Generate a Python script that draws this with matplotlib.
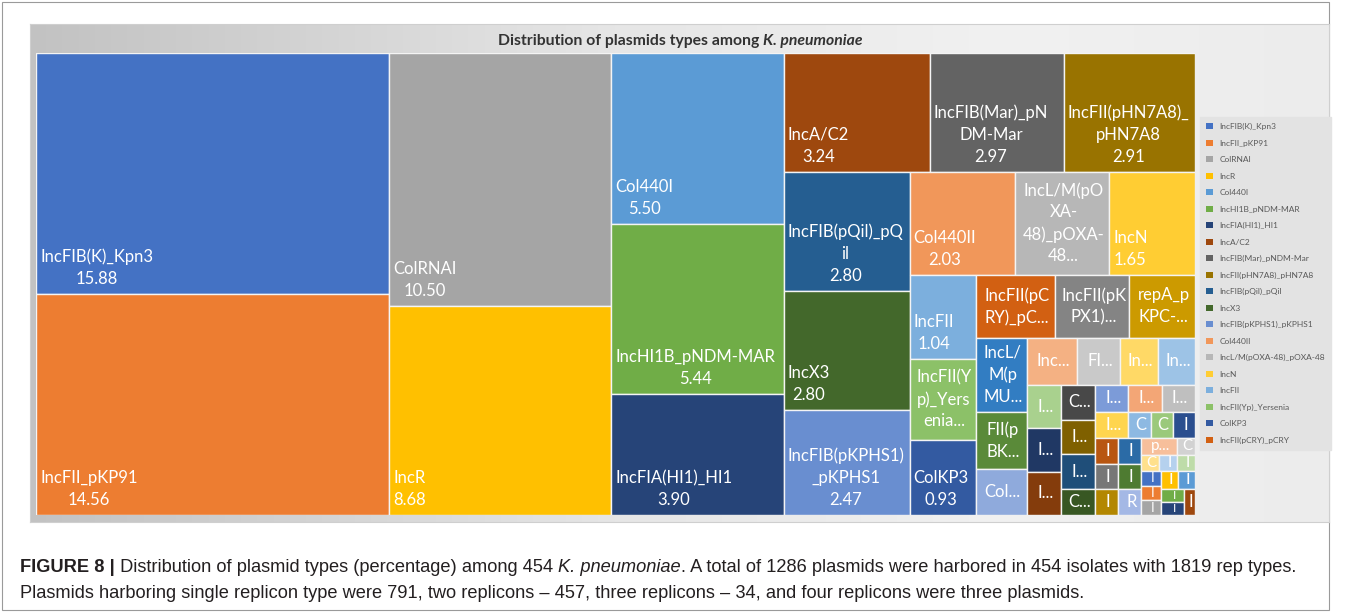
import numpy as np
import matplotlib
matplotlib.use("Agg")
import matplotlib.pyplot as plt
from matplotlib.patches import Rectangle, Patch
from matplotlib.font_manager import FontProperties
from matplotlib.colors import to_rgb

# ---------------- data ----------------
names = [
    "IncFIB(K)_Kpn3", "IncFII_pKP91", "ColRNAI", "IncR", "Col440I",
    "IncHI1B_pNDM-MAR", "IncFIA(HI1)_HI1", "IncA/C2", "IncFIB(Mar)_pNDM-Mar",
    "IncFII(pHN7A8)_pHN7A8", "IncFIB(pQil)_pQil", "IncX3", "IncFIB(pKPHS1)_pKPHS1",
    "Col440II", "IncL/M(pOXA-48)_pOXA-48", "IncN", "IncFII", "IncFII(Yp)_Yersenia",
    "ColKP3", "IncFII(pCRY)_pCRY", "IncFII(pKPX1)", "repA_pKPC-CAV1321",
    "IncL/M(pMU407)", "FII(pBK30683)", "ColMG828", "IncFII(pMET)", "FIA(pBK30683)",
    "IncQ1", "IncFII(K)", "IncX4", "IncI1", "IncFIB(pB171)", "Col156", "IncHI2",
    "IncY", "ColpVC", "IncX1", "IncFII(p14)", "IncP1", "IncA/C", "Col(BS512)",
    "Col(pHAD28)", "IncFIB(AP001918)", "IncHI2A", "IncN2", "IncFII(29)",
    "IncFIB(pHCM2)", "IncX5", "Rep_pKPC", "p0111", "Col(MG828)", "ColE10",
    "IncFIB(pNDM-Mar)", "IncFII(pRSB107)", "IncI2", "IncFIB(Mar)", "IncX6",
    "IncFII(Serratia)", "IncQ2", "IncFIC(FII)", "IncB/O/K/Z", "IncHI1A",
]
values = [
    15.88, 14.56, 10.50, 8.68, 5.50, 5.44, 3.90, 3.24, 2.97, 2.91, 2.80, 2.80,
    2.47, 2.03, 1.81, 1.65, 1.04, 0.99, 0.93, 0.93, 0.88, 0.77, 0.715, 0.55,
    0.44, 0.44, 0.385, 0.33, 0.33, 0.275, 0.275, 0.275, 0.22, 0.22, 0.22,
    0.165, 0.165, 0.165, 0.165, 0.165,
    0.11, 0.11, 0.11, 0.11, 0.11, 0.11, 0.11, 0.11, 0.11, 0.11,
    0.055, 0.055, 0.055, 0.055, 0.055, 0.055, 0.055, 0.055, 0.055, 0.055, 0.055, 0.055,
]
colors = [
    "#4472C4", "#ED7D31", "#A5A5A5", "#FFC000", "#5B9BD5", "#70AD47",
    "#264478", "#9E480E", "#636363", "#997300", "#255E91", "#43682B",
    "#698ED0", "#F1975A", "#B7B7B7", "#FFCD33", "#7CAFDD", "#8CC168",
    "#335AA1", "#D26012", "#848484", "#CC9A00", "#327DC2", "#5A8A39",
    "#8FAADC", "#F4B183", "#C9C9C9", "#FFD966", "#9DC3E6", "#A9D18E",
    "#203864", "#843C0C", "#484848", "#7F6000", "#1F4E79", "#385723",
    "#7C9BD8", "#F3A676", "#BFBFBF", "#FFD54F", "#8DB9E2", "#9BC97B",
    "#2B4F8F", "#B85611", "#777777", "#B38700", "#2B6BA6", "#4E7B31",
    "#A4B8E5", "#F7BF9B", "#D2D2D2", "#FFE08C", "#B5D1EE", "#BEDCA9",
    "#4472C4", "#ED7D31", "#A5A5A5", "#FFC000", "#5B9BD5", "#70AD47",
    "#264478", "#9E480E",
]
legend_count = 20
title_plain = "Distribution of plasmids types among "
title_italic = "K. pneumoniae"
caption1 = [("FIGURE 8 |", "bold", "normal"),
            (" Distribution of plasmid types (percentage) among 454 ", "normal", "normal"),
            ("K. pneumoniae", "normal", "italic"),
            (". A total of 1286 plasmids were harbored in 454 isolates with 1819 rep types.", "normal", "normal")]
caption2 = [("Plasmids harboring single replicon type were 791, two replicons \u2013 457, three replicons \u2013 34, "
             "and four replicons were three plasmids.", "normal", "normal")]

# ---------------- figure ----------------
FW, FH = 1357, 612
fig = plt.figure(figsize=(FW / 100, FH / 100), dpi=100)
fig.patch.set_facecolor("white")
renderer = fig.canvas.get_renderer()


def px_box(x0, y0, x1, y1):
    return [x0 / FW, 1 - y1 / FH, (x1 - x0) / FW, (y1 - y0) / FH]


def tw(s, fp):
    if not s:
        return 0.0
    w1 = renderer.get_text_width_height_descent("|" + s + "|", fp, ismath=False)[0]
    w0 = renderer.get_text_width_height_descent("||", fp, ismath=False)[0]
    return w1 - w0


# outer frame of the whole figure
fig.add_artist(Rectangle((2 / FW, 2 / FH), (1329 - 2) / FW, (FH - 4) / FH,
                         transform=fig.transFigure, facecolor="none",
                         edgecolor="#9A9A9A", linewidth=0.8, zorder=0))

# chart-area panel with gradient
bg = fig.add_axes(px_box(30, 24, 1329, 522), zorder=0)
stops_pos = [0.0, 0.45, 0.75, 1.0]
stops_col = ["#C2C2C2", "#E6E6E6", "#F1F1F1", "#ECECEC"]
xs = np.linspace(0, 1, 400)
rgb = np.array([to_rgb(c) for c in stops_col])
grad = np.stack([np.interp(xs, stops_pos, rgb[:, k]) for k in range(3)], axis=-1)[None, :, :]
bg.imshow(grad, aspect="auto", extent=(0, 1, 0, 1))
bg.set_xlim(0, 1)
bg.set_ylim(0, 1)
bg.set_xticks([])
bg.set_yticks([])
for sp in bg.spines.values():
    sp.set_color("#CFCFCF")
    sp.set_linewidth(0.8)


# ---------------- treemap layout (squarified) ----------------
def squarify(vals, x, y, w, h):
    total = float(sum(vals))
    areas = [v * w * h / total for v in vals]
    out = []
    i, n = 0, len(areas)
    while i < n:
        vertical = w >= h
        side = h if vertical else w

        def last_ratio(row):
            thick = sum(row) / side
            length = row[-1] / thick
            return max(thick / length, length / thick)

        row = [areas[i]]
        best = last_ratio(row)
        j = i + 1
        while j < n:
            cand = row + [areas[j]]
            r = last_ratio(cand)
            if r <= best:
                row, best = cand, r
                j += 1
            else:
                break
        thick = sum(row) / side
        if vertical:
            yy = y
            for a in row:
                hh = a / thick
                out.append((x, yy, thick, hh))
                yy += hh
            x += thick
            w -= thick
        else:
            xx = x
            for a in row:
                ww = a / thick
                out.append((xx, y, ww, thick))
                xx += ww
            y += thick
            h -= thick
        i = j
    return out


ax = fig.add_axes(px_box(36, 53, 1195, 515), zorder=2)
ax.set_axis_off()
AW, AH = ax.bbox.width, ax.bbox.height
ax.set_xlim(0, AW)
ax.set_ylim(AH, 0)

rects = squarify(values, 0.0, 0.0, AW, AH)

LAB_SIZE = 12.0
lab_fp = FontProperties(family="Lato", size=LAB_SIZE)
PAD = 4.0
LINE = 22.0


def wrap(text, avail):
    tokens, cur = [], ""
    for ch in text:
        cur += ch
        if ch in "- ":
            tokens.append(cur)
            cur = ""
    if cur:
        tokens.append(cur)
    lines, cur = [], ""
    for tok in tokens:
        if tw(cur + tok, lab_fp) <= avail:
            cur += tok
            continue
        if cur:
            lines.append(cur)
            cur = ""
        while tw(tok, lab_fp) > avail and len(tok) > 1:
            k = 1
            while k < len(tok) and tw(tok[:k + 1], lab_fp) <= avail:
                k += 1
            lines.append(tok[:k])
            tok = tok[k:]
        cur = tok
    if cur:
        lines.append(cur)
    return lines


for (x, y, w, h), name, val, col in zip(rects, names, values, colors):
    patch = Rectangle((x, y), w, h, facecolor=col, edgecolor="#F4F4F4", linewidth=1.0)
    ax.add_patch(patch)
    avail = w - 9
    lines = wrap(name, avail) + [f"{val:.2f}"]
    maxl = max(1, int((h - PAD) // LINE))
    truncated = len(lines) > maxl
    if truncated:
        lines = lines[:maxl]
        last = lines[-1]
        s = last
        while s and tw(s + "...", lab_fp) > avail:
            s = s[:-1]
        lines[-1] = (s + "...") if s else last[0]
        cx = x + w / 2 + 1.5
        cy0 = y + h / 2 - (len(lines) - 1) * LINE / 2
    else:
        bw = max(tw(l, lab_fp) for l in lines)
        cx = x + PAD + bw / 2
        cy0 = y + h - PAD - LINE / 2 - (len(lines) - 1) * LINE
    for k, l in enumerate(lines):
        size = LAB_SIZE
        lw_ = tw(l, lab_fp)
        if lw_ > w - 1:
            size = min(size, LAB_SIZE * (w - 2) / lw_)
        if h < 18:
            size = min(size, LAB_SIZE * (h - 1) / 17.0)
        fp = lab_fp if size == LAB_SIZE else FontProperties(family="Lato", size=max(4.0, size))
        t = ax.text(cx, cy0 + k * LINE, l, ha="center", va="center",
                    color="white", fontproperties=fp)
        t.set_clip_path(patch)

# ---------------- title ----------------
tfp_b = FontProperties(family="Lato", weight="bold", size=11.3)
tfp_bi = FontProperties(family="Lato", weight="bold", style="italic", size=11.3)
w1 = tw(title_plain, tfp_b)
w2 = tw(title_italic, tfp_bi)
tx = 680 - (w1 + w2) / 2
ty = 41
fig.text(tx / FW, 1 - ty / FH, title_plain, fontproperties=tfp_b, color="#333333",
         ha="left", va="center")
fig.text((tx + w1) / FW, 1 - ty / FH, title_italic, fontproperties=tfp_bi,
         color="#333333", ha="left", va="center")

# ---------------- legend ----------------
handles = [Patch(facecolor=c, edgecolor="none") for c in colors[:legend_count]]
leg = fig.legend(handles, names[:legend_count], loc="upper left",
                 bbox_to_anchor=(1200 / FW, 1 - 117 / FH),
                 prop=FontProperties(family="Lato", size=6), labelcolor="#595959",
                 frameon=True, fancybox=False, facecolor="#E3E3E3", edgecolor="#E3E3E3",
                 framealpha=1, borderpad=0.75, labelspacing=1.13, handlelength=0.75,
                 handleheight=0.75, handletextpad=0.8, borderaxespad=0)
leg.set_zorder(3)

# ---------------- caption ----------------
def runs_fp(size, weight, style):
    return FontProperties(family="Liberation Sans", weight=weight, style=style, size=size)


base = 12.0
nat = sum(tw(s, runs_fp(base, wt, st)) for s, wt, st in caption1)
csize = base * 1277.0 / nat


def draw_runs(x0, yc, runs):
    x = x0
    for s, wt, st in runs:
        fp = runs_fp(csize, wt, st)
        fig.text(x / FW, 1 - yc / FH, s, fontproperties=fp, color="#231F20",
                 ha="left", va="center")
        x += tw(s, fp)


draw_runs(20, 568, caption1)
draw_runs(20, 594, caption2)

fig.savefig("out.png", dpi=100, facecolor="white")
